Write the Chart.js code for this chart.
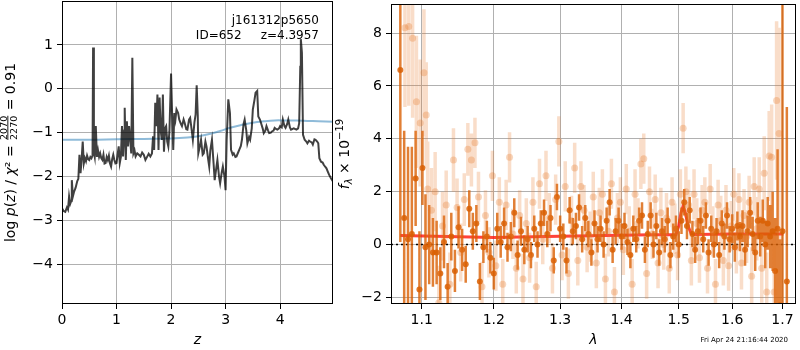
<!DOCTYPE html>
<html>
<head>
<meta charset="utf-8">
<script src="https://cdn.jsdelivr.net/npm/chart.js@4.4.1/dist/chart.umd.min.js"></script>
<style>
  body { margin: 0; background: #fff; width: 800px; height: 350px; position: relative; overflow: hidden; }
  canvas { position: absolute; top: 0; }
  #pz { left: 0; }
  #sp { left: 330px; }
</style>
</head>
<body>
<canvas id="pz" width="340" height="350"></canvas>
<canvas id="sp" width="470" height="350"></canvas>
<script>
// ---- left panel: log p(z) ----
const zGrid = [
  0.00,0.03,0.06,0.09,0.11,0.13,0.15,0.17,0.18,0.20,
  0.22,0.25,0.28,0.30,0.32,0.34,0.36,0.38,0.40,0.42,
  0.44,0.46,0.48,0.50,0.52,0.54,0.56,0.57,0.585,0.60,
  0.62,0.64,0.66,0.68,0.70,0.72,0.74,0.76,0.78,0.80,
  0.82,0.84,0.86,0.88,0.90,0.92,0.94,0.96,0.98,1.00,
  1.02,1.04,1.06,1.08,1.10,1.12,1.14,1.15,1.17,1.19,
  1.21,1.23,1.25,1.27,1.29,1.31,1.33,1.35,1.38,1.41,
  1.44,1.47,1.50,1.53,1.56,1.59,1.62,1.65,1.67,1.69,
  1.71,1.73,1.75,1.77,1.79,1.81,1.83,1.85,1.87,1.89,
  1.91,1.93,1.95,1.97,2.00,2.02,2.04,2.06,2.08,2.10,
  2.13,2.15,2.18,2.20,2.23,2.25,2.28,2.30,2.33,2.35,
  2.38,2.40,2.43,2.45,2.47,2.49,2.50,2.53,2.55,2.58,
  2.60,2.63,2.65,2.68,2.70,2.72,2.75,2.78,2.80,2.83,
  2.85,2.88,2.90,2.93,2.95,2.98,3.00,3.02,3.05,3.08,
  3.10,3.13,3.15,3.18,3.20,3.23,3.25,3.28,3.30,3.33,
  3.35,3.38,3.40,3.43,3.45,3.48,3.50,3.53,3.55,3.58,
  3.60,3.63,3.65,3.68,3.70,3.73,3.75,3.78,3.80,3.83,
  3.85,3.88,3.90,3.93,3.95,3.98,4.00,4.03,4.05,4.08,
  4.10,4.13,4.15,4.18,4.20,4.25,4.30,4.33,4.35,4.37,
  4.38,4.40,4.42,4.45,4.48,4.50,4.53,4.55,4.58,4.60,
  4.63,4.65,4.68,4.70,4.72,4.75,4.78,4.80,4.83,4.85,
  4.88,4.90,4.93,4.97
];
const logPz = [
  -2.72,-2.78,-2.80,-2.70,-2.75,-2.45,-2.62,-2.55,-2.08,-2.45,
  -2.35,-2.25,-2.10,-2.05,-1.50,-1.92,-1.60,-1.20,-1.70,-1.58,
  -1.65,-1.52,-1.60,-1.62,-1.55,-1.58,-1.52,0.94,-1.45,-1.55,
  -0.85,-1.55,-1.40,-1.55,-1.47,-1.58,-1.62,-1.50,-1.70,-1.69,
  -1.55,-1.62,-1.52,-1.70,-1.77,-1.60,-1.50,-1.62,-1.70,-1.69,
  -1.50,-1.31,-1.69,-1.55,-0.85,-1.54,-0.95,-0.43,-1.62,-0.74,
  -1.31,-0.85,-1.15,-1.47,0.71,-1.47,-1.40,-1.54,-1.47,-1.50,
  -1.54,-1.45,-1.50,-1.62,-1.55,-1.48,-1.54,-1.47,-1.08,-1.39,
  -0.32,-0.85,-0.13,-1.39,-0.20,-0.95,-1.16,-0.13,-1.43,-0.90,
  -0.85,-1.20,-1.31,-0.97,0.35,-0.60,-1.39,-0.55,-0.70,-0.47,
  -0.55,-0.70,-0.80,-0.85,-0.70,-0.78,-0.92,-0.93,-0.70,-0.66,
  -0.95,-1.16,-0.75,-0.59,0.08,-0.60,-1.47,-1.30,-1.16,-1.50,
  -1.47,-1.20,-1.31,-1.60,-1.77,-1.40,-1.16,-1.70,-2.08,-1.80,
  -1.62,-2.00,-2.15,-1.90,-1.77,-2.00,-2.31,-1.16,-0.24,-0.55,
  -1.39,-1.50,-1.47,-1.55,-1.54,-1.45,-1.39,-1.30,-1.16,-0.80,
  -0.70,-0.95,-1.24,-1.10,-1.16,-0.90,-0.47,-0.25,-0.09,-0.05,
  -0.63,-0.70,-0.78,-0.90,-1.01,-0.95,-0.85,-0.95,-1.01,-1.00,
  -0.97,-0.95,-0.89,-0.92,-0.93,-0.90,-0.85,-0.88,-0.70,-0.85,
  -0.89,-0.80,-0.70,-0.88,-0.93,-0.90,-0.93,-0.90,-0.78,0.50,
  1.13,0.82,-1.05,-1.16,-1.20,-1.24,-1.18,-1.20,-1.22,-1.27,
  -1.15,-1.16,-1.20,-1.24,-1.58,-1.66,-1.68,-1.73,-1.78,-1.81,
  -1.90,-1.96,-2.03,-2.11
];
const zPrior = [0, 0.5, 1, 1.5, 2, 2.3, 2.5, 2.7, 2.9, 3.1, 3.3, 3.5, 3.7, 3.9, 4.1, 4.3, 4.5, 4.7, 4.97];
const logPrior = [-1.16, -1.16, -1.15, -1.14, -1.13, -1.11, -1.08, -1.03, -0.96, -0.88, -0.82, -0.77, -0.74, -0.72, -0.72, -0.72, -0.73, -0.74, -0.75];
const zTicks = [0, 1, 2, 3, 4];
const pzTicks = [-4, -3, -2, -1, 0, 1];

// ---- right panel: spectrum ----
const darkWave = [
  1.072,1.077,1.082,1.087,1.092,1.097,1.101,1.105,1.110,1.115,
  1.120,1.125,1.130,1.135,1.140,1.145,1.150,1.155,1.160,1.165,
  1.170,1.175,1.180,1.185,1.190,1.195,1.200,1.205,1.210,1.215,
  1.220,1.225,1.230,1.235,1.240,1.245,1.250,1.255,1.260,1.265,
  1.270,1.275,1.280,1.285,1.290,1.295,1.300,1.305,1.310,1.315,
  1.320,1.325,1.330,1.335,1.340,1.345,1.350,1.355,1.360,1.365,
  1.370,1.375,1.380,1.385,1.390,1.395,1.400,1.405,1.410,1.415,
  1.420,1.425,1.430,1.435,1.440,1.445,1.450,1.455,1.460,1.465,
  1.470,1.475,1.480,1.485,1.490,1.495,1.500,1.505,1.510,1.515,
  1.520,1.525,1.530,1.535,1.540,1.545,1.550,1.555,1.560,1.565,
  1.570,1.575,1.580,1.585,1.590,1.595,1.600,1.605,1.610,1.615,
  1.620,1.625,1.630,1.635,1.640,1.645,1.650,1.655,1.660,1.665,
  1.670,1.675,1.680,1.685,1.690,1.695,1.700,1.709
];
const darkFlux = [
  6.6,1.0,0.2,0.4,2.5,-1.7,2.9,-0.1,0.0,-0.3,
  -0.3,-1.1,0.1,-1.6,0.3,-1.0,0.65,-0.2,-0.75,1.35,
  0.5,0.8,-1.4,-0.1,0.3,-0.5,-1.1,0.6,0.1,0.8,
  -0.1,0.3,1.2,-0.4,0.5,-0.2,0.2,-0.4,0.6,0.0,
  0.8,1.2,0.4,1.0,-0.6,1.8,0.6,0.3,-0.6,1.3,
  0.5,0.7,1.4,0.2,1.0,0.4,-0.3,0.8,0.2,0.6,
  0.0,0.9,1.6,-0.2,0.5,0.9,0.3,0.7,0.1,-0.4,
  0.6,0.2,0.9,1.1,-0.2,0.4,1.1,0.0,0.7,-0.3,
  0.5,0.2,0.9,-0.4,0.3,0.6,0.0,0.9,1.6,0.7,
  1.3,0.4,-0.2,0.5,0.9,0.2,1.1,-0.3,0.6,0.0,
  0.5,-0.4,0.8,0.3,1.1,0.2,0.6,-0.1,0.7,0.3,
  0.7,-0.2,0.5,1.2,0.4,-0.3,0.9,0.3,0.9,0.0,
  0.8,0.3,0.5,-1.0,0.6,-2.3,0.5,-1.4
];
const darkErr = [
  6.5,3.3,3.5,3.3,1.8,2.2,1.4,2.0,1.5,1.3,
  1.2,1.0,1.0,0.9,0.9,0.8,0.8,0.8,0.7,0.7,
  0.7,0.7,0.7,0.6,0.6,0.6,0.6,0.6,0.6,0.6,
  0.55,0.55,0.55,0.55,0.55,0.55,0.5,0.5,0.5,0.5,
  0.5,0.5,0.5,0.5,0.5,0.5,0.5,0.5,0.5,0.5,
  0.5,0.5,0.5,0.5,0.5,0.5,0.5,0.5,0.5,0.5,
  0.5,0.5,0.5,0.5,0.5,0.5,0.5,0.5,0.5,0.5,
  0.5,0.5,0.5,0.5,0.5,0.5,0.5,0.5,0.5,0.5,
  0.5,0.5,0.5,0.5,0.5,0.5,0.5,0.5,0.5,0.5,
  0.5,0.5,0.5,0.5,0.5,0.5,0.5,0.5,0.5,0.5,
  0.5,0.5,0.5,0.5,0.5,0.5,0.55,0.55,0.55,0.55,
  0.6,0.6,0.6,0.6,0.65,0.7,0.7,0.75,0.8,0.9,
  1.0,1.2,1.5,2.0,3.0,2.5,9.0,6.6
];
const lightWave = [
  1.078,1.083,1.088,1.093,1.098,1.103,1.106,1.108,1.113,1.118,
  1.123,1.128,1.133,1.138,1.143,1.148,1.153,1.158,1.163,1.168,
  1.173,1.178,1.183,1.188,1.193,1.198,1.203,1.208,1.213,1.218,
  1.223,1.228,1.233,1.238,1.243,1.248,1.253,1.258,1.263,1.268,
  1.273,1.278,1.283,1.288,1.293,1.298,1.303,1.308,1.313,1.318,
  1.323,1.328,1.333,1.338,1.343,1.348,1.353,1.358,1.363,1.368,
  1.373,1.378,1.383,1.388,1.393,1.398,1.403,1.408,1.413,1.418,
  1.423,1.428,1.433,1.438,1.443,1.448,1.453,1.458,1.463,1.468,
  1.473,1.478,1.483,1.488,1.493,1.498,1.503,1.508,1.513,1.518,
  1.523,1.528,1.533,1.538,1.543,1.548,1.553,1.558,1.563,1.568,
  1.573,1.578,1.583,1.588,1.593,1.598,1.603,1.608,1.613,1.618,
  1.623,1.628,1.633,1.638,1.643,1.648,1.653,1.658,1.663,1.668,
  1.673,1.678,1.683,1.688,1.693
];
const lightFlux = [
  8.2,8.25,7.8,5.4,4.6,6.5,4.9,2.1,1.3,2.0,
  -2.2,0.7,1.5,-1.5,3.2,1.4,-0.3,1.7,3.6,3.2,
  3.85,1.8,-1.6,1.1,-0.3,2.6,-0.8,1.6,-1.5,1.5,
  3.3,0.4,-0.9,1.1,-1.3,0.8,-0.5,1.6,-1.6,2.3,
  0.2,2.6,1.0,-0.9,1.7,3.9,-0.4,2.2,-1.1,0.9,
  2.9,-0.6,2.2,1.3,-0.1,0.3,1.8,-0.7,1.2,1.9,
  -1.3,0.5,2.3,-1.8,1.0,1.6,-0.2,2.1,0.5,-1.5,
  1.9,0.8,3.05,3.25,-1.1,2.0,0.4,1.7,-0.7,1.2,
  0.0,1.0,-0.9,1.6,0.6,-0.4,1.9,4.4,2.0,1.5,
  -0.6,1.9,0.8,-0.5,1.3,1.6,-0.9,2.1,0.5,-1.5,
  1.5,0.9,-0.6,1.3,-0.8,0.7,1.9,-0.1,1.7,-0.7,
  1.1,0.3,1.6,-1.2,2.2,0.6,2.1,-0.9,2.7,-1.8,
  3.35,3.3,-1.8,5.45,4.2
];
const lightErr = [
  3.0,3.0,3.0,2.5,2.4,2.4,2.0,1.8,1.6,1.5,
  1.4,1.3,1.3,1.2,1.2,1.1,1.1,1.0,1.0,1.0,
  0.95,0.95,0.95,0.95,0.95,0.95,0.95,0.95,0.95,0.95,
  0.95,0.95,0.95,0.95,0.95,0.95,0.95,0.95,0.95,0.95,
  0.95,0.95,0.95,0.95,0.95,0.95,0.95,0.95,0.95,0.95,
  0.95,0.95,0.95,0.95,0.95,0.95,0.95,0.95,0.95,0.95,
  0.95,0.95,0.95,0.95,0.95,0.95,0.95,0.95,0.95,0.95,
  0.95,0.95,0.95,0.95,0.95,0.95,0.95,0.95,0.95,0.95,
  0.95,0.95,0.95,0.95,0.95,0.95,0.95,0.95,0.95,0.95,
  0.95,0.95,0.95,0.95,0.95,0.95,0.95,0.95,0.95,0.95,
  0.95,0.95,0.95,0.95,0.95,0.95,1.0,1.0,1.0,1.0,
  1.0,1.0,1.0,1.1,1.1,1.2,1.2,1.3,1.4,1.5,
  1.7,2.0,2.2,3.0,4.0
];
const modelWave = [1.072, 1.2, 1.3, 1.4, 1.45, 1.495, 1.500, 1.504, 1.508, 1.512, 1.517, 1.523, 1.530, 1.6, 1.702];
const modelFlux = [0.34, 0.27, 0.31, 0.35, 0.37, 0.37, 0.70, 1.20, 1.45, 1.20, 0.70, 0.40, 0.38, 0.40, 0.40];
const waveTicks = [1.1, 1.2, 1.3, 1.4, 1.5, 1.6, 1.7];
const fluxTicks = [-2, 0, 2, 4, 6, 8];

Chart.defaults.font.family = 'DejaVu Sans';
Chart.defaults.font.size = 14;
Chart.defaults.color = '#000';
Chart.defaults.animation = false;

const minus = v => (v < 0 ? '\u2212' + (-v) : String(v));

function gridOpts() {
  return { color: '#b0b0b0', lineWidth: 1, tickColor: '#000', tickLength: 5, drawTicks: true };
}

// no label overhang padding: the plot area is fixed by the layout
function fixX(h) {
  return s => { s.height = h; s.paddingLeft = 0; s.paddingRight = 0; };
}
function fixY(w) {
  return s => { s.width = w; s.paddingTop = 0; s.paddingBottom = 0; };
}

const frame = {
  id: 'frame',
  afterDraw(chart) {
    const { ctx, chartArea: a } = chart;
    ctx.save();
    ctx.strokeStyle = '#000';
    ctx.lineWidth = 1;
    ctx.strokeRect(a.left + 0.5, a.top + 0.5, a.right - a.left - 1, a.bottom - a.top - 1);
    ctx.restore();
  }
};

// rotated label made of runs of text (for the math-style y titles)
function drawRotated(ctx, runs, cx, cy) {
  ctx.save();
  ctx.translate(cx, cy);
  ctx.rotate(-Math.PI / 2);
  let total = 0;
  runs.forEach(r => {
    ctx.font = r.font;
    r.w = r.frac ? Math.max(ctx.measureText(r.frac[0]).width, ctx.measureText(r.frac[1]).width) + 2
                 : ctx.measureText(r.t).width;
    total += r.w;
  });
  let x = -total / 2;
  ctx.fillStyle = '#000';
  ctx.textBaseline = 'middle';
  runs.forEach(r => {
    ctx.font = r.font;
    if (r.frac) {
      ctx.textAlign = 'center';
      ctx.textBaseline = 'alphabetic';
      ctx.fillText(r.frac[0], x + r.w / 2, -4.5);
      ctx.textBaseline = 'top';
      ctx.fillText(r.frac[1], x + r.w / 2, -1.5);
      ctx.fillRect(x + 1, -3.6, r.w - 2, 0.9);
      ctx.textBaseline = 'middle';
    } else {
      ctx.textAlign = 'left';
      ctx.fillText(r.t, x, r.dy || 0);
    }
    x += r.w;
  });
  ctx.restore();
}

const pzText = {
  id: 'pzText',
  afterDraw(chart) {
    const { ctx, chartArea: a } = chart;
    ctx.save();
    ctx.fillStyle = '#000';
    ctx.font = '12px DejaVu Sans';
    ctx.textAlign = 'right';
    ctx.textBaseline = 'alphabetic';
    ctx.fillText('j161312p5650', a.right - 14, 24);
    ctx.fillText('ID=652     z=4.3957', a.right - 14, 39);
    ctx.restore();
    const n = '14px DejaVu Sans', it = 'italic 14px DejaVu Sans';
    drawRotated(ctx, [
      { t: 'log ', font: n }, { t: 'p', font: it }, { t: '(', font: n }, { t: 'z', font: it },
      { t: ') / ', font: n }, { t: '\u03c7', font: it }, { t: '\u00b2', font: n }, { t: ' = ', font: n },
      { frac: ['2070', '2270'], font: '9.5px DejaVu Sans' }, { t: ' = 0.91', font: n }
    ], 11, (a.top + a.bottom) / 2);
  }
};

const spText = {
  id: 'spText',
  afterDraw(chart) {
    const { ctx, chartArea: a } = chart;
    ctx.save();
    ctx.fillStyle = '#000';
    ctx.font = '7px DejaVu Sans';
    ctx.textAlign = 'right';
    ctx.fillText('Fri Apr 24 21:16:44 2020', 458, 342);
    ctx.restore();
    drawRotated(ctx, [
      { t: 'f', font: 'italic 14px DejaVu Sans' },
      { t: '\u03bb', font: 'italic 10px DejaVu Sans', dy: 4 },
      { t: ' \u00d7 10', font: '14px DejaVu Sans' },
      { t: '\u221219', font: '10px DejaVu Sans', dy: -5 }
    ], 15, (a.top + a.bottom) / 2);
  }
};

function xy(xs, ys) {
  return xs.map((x, i) => ({ x: x, y: ys[i] }));
}
function errSegments(xs, ys, es) {
  const out = [];
  xs.forEach((x, i) => {
    out.push({ x: x, y: ys[i] - es[i] }, { x: x, y: ys[i] + es[i] }, { x: x, y: null });
  });
  return out;
}

new Chart(document.getElementById('pz'), {
  type: 'line',
  data: {
    datasets: [
      { data: xy(zGrid, logPz), borderColor: 'rgba(0,0,0,0.75)', borderWidth: 2, pointRadius: 0, tension: 0 },
      { data: xy(zPrior, logPrior), borderColor: 'rgba(31,119,180,0.5)', borderWidth: 2, pointRadius: 0, tension: 0.4 }
    ]
  },
  options: {
    responsive: false,
    layout: { padding: { top: 1, right: 7, left: 0, bottom: 0 } },
    plugins: { legend: { display: false }, tooltip: { enabled: false } },
    scales: {
      x: {
        type: 'linear', min: 0, max: 4.97,
        afterBuildTicks: s => { s.ticks = zTicks.map(v => ({ value: v })); },
        afterFit: fixX(46),
        grid: gridOpts(), border: { display: false },
        ticks: { padding: 3, maxRotation: 0, callback: v => minus(v) },
        title: { display: true, text: 'z', font: { style: 'italic', size: 14 }, padding: { top: 0, bottom: 1 } }
      },
      y: {
        type: 'linear', min: -4.9, max: 2.0,
        afterBuildTicks: s => { s.ticks = pzTicks.map(v => ({ value: v })); },
        afterFit: fixY(62),
        grid: gridOpts(), border: { display: false },
        ticks: { padding: 4, callback: v => minus(v) }
      }
    }
  },
  plugins: [frame, pzText]
});

new Chart(document.getElementById('sp'), {
  type: 'line',
  data: {
    datasets: [
      { data: errSegments(lightWave, lightFlux, lightErr), borderColor: 'rgba(230,120,40,0.25)', borderWidth: 3.5,
        borderCapStyle: 'butt', pointRadius: 0, spanGaps: false },
      { data: xy(lightWave, lightFlux), showLine: false, pointRadius: 3.5, pointBorderWidth: 0,
        pointBackgroundColor: 'rgba(230,120,40,0.3)' },
      { data: errSegments(darkWave, darkFlux, darkErr), borderColor: 'rgba(217,95,2,0.8)', borderWidth: 2.5,
        borderCapStyle: 'butt', pointRadius: 0, spanGaps: false },
      { data: xy(darkWave, darkFlux), showLine: false, pointRadius: 3, pointBorderWidth: 0,
        pointBackgroundColor: 'rgba(217,95,2,0.85)' },
      { data: xy(modelWave, modelFlux), borderColor: 'rgba(255,20,10,0.8)', borderWidth: 3, pointRadius: 0, tension: 0 },
      { data: [{ x: 1.06, y: 0 }, { x: 1.728, y: 0 }], borderColor: '#000', borderWidth: 1.5,
        borderDash: [2, 3], pointRadius: 0 }
    ]
  },
  options: {
    responsive: false,
    layout: { padding: { top: 1, right: 1, left: 0, bottom: 0 } },
    plugins: { legend: { display: false }, tooltip: { enabled: false } },
    scales: {
      x: {
        type: 'logarithmic', min: 1.06, max: 1.728,
        afterBuildTicks: s => { s.ticks = waveTicks.map(v => ({ value: v })); },
        afterFit: fixX(46),
        grid: gridOpts(), border: { display: false },
        ticks: { padding: 3, maxRotation: 0, autoSkip: false, callback: v => Number(v).toFixed(1) },
        title: { display: true, text: '\u03bb', font: { style: 'italic', size: 14 }, padding: { top: 0, bottom: 1 } }
      },
      y: {
        type: 'linear', min: -2.25, max: 9.1,
        afterBuildTicks: s => { s.ticks = fluxTicks.map(v => ({ value: v })); },
        afterFit: fixY(61),
        grid: gridOpts(), border: { display: false },
        ticks: { padding: 4, callback: v => minus(v) }
      }
    }
  },
  plugins: [frame, spText]
});
</script>
</body>
</html>
